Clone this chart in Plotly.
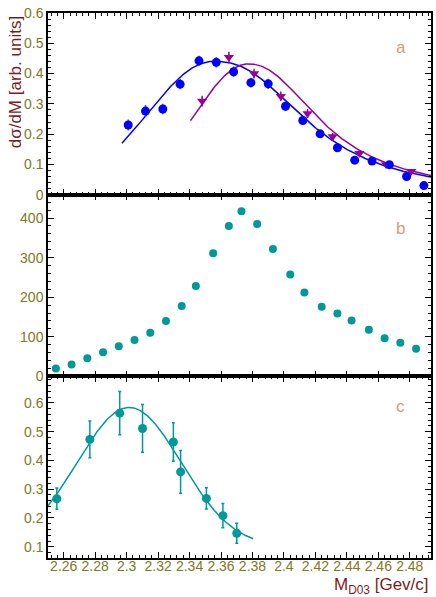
import numpy as np
import plotly.graph_objects as go
from plotly.subplots import make_subplots

# ---------------- data ----------------
# panel a: blue circles
a_blue_x = [2.301, 2.312, 2.323, 2.334, 2.346, 2.357, 2.368, 2.379, 2.390,
            2.401, 2.412, 2.423, 2.434, 2.445, 2.456, 2.467, 2.478, 2.489]
a_blue_y = [0.230, 0.276, 0.283, 0.365, 0.442, 0.437, 0.406, 0.370, 0.366,
            0.292, 0.245, 0.201, 0.155, 0.114, 0.111, 0.099, 0.060, 0.030]
a_blue_err = [0.018, 0.020, 0.017, 0.017, 0.017, 0.017, 0.017, 0.016, 0.017,
              0.016, 0.015, 0.012, 0.010, 0.010, 0.008, 0.008, 0.006, 0.006]

# panel a: purple triangles
a_purp_x = [2.348, 2.365, 2.381, 2.398, 2.415, 2.431, 2.448, 2.465, 2.481]
a_purp_y = [0.309, 0.454, 0.400, 0.325, 0.268, 0.192, 0.137, 0.100, 0.077]
a_purp_err = [0.018, 0.018, 0.016, 0.016, 0.015, 0.012, 0.010, 0.008, 0.008]

# panel b: teal circles
b_x = [2.255, 2.265, 2.275, 2.285, 2.295, 2.305, 2.315, 2.325, 2.335, 2.344,
       2.355, 2.365, 2.373, 2.383, 2.393, 2.404, 2.413, 2.424, 2.434, 2.443,
       2.454, 2.464, 2.474, 2.484]
b_y = [20, 30, 46, 61, 76, 92, 110, 140, 178, 228,
       311, 380, 417, 385, 322, 257, 212, 176, 159, 141,
       118, 96, 85, 70]

# panel c: teal circles with errors
c_x = [2.2556, 2.2766, 2.2956, 2.3101, 2.3297, 2.3343, 2.3507, 2.3612, 2.3700]
c_y = [0.267, 0.473, 0.564, 0.511, 0.464, 0.360, 0.268, 0.208, 0.147]
c_err = [0.037, 0.064, 0.075, 0.083, 0.067, 0.074, 0.037, 0.042, 0.035]

# fit-curve parameters: peak position, height, left sigma, right width, right power, range
fit_blue = dict(m=2.355, A=0.440, sl=0.042, g=0.0652, p=2.5, lo=2.297, hi=2.4935)
fit_purp = dict(m=2.3773, A=0.432, sl=0.0344, g=0.0522, p=2.2, lo=2.3406, hi=2.4935)
# panel c fit: gaussian on a flat background
fit_teal = dict(m=2.3016, A=0.484, s=0.033, b=0.100, lo=2.25, hi=2.3805)

BLUE = "#0000ff"
PURPLE = "#990099"
TEAL = "#009999"
OLIVE = "#7d7a22"
DARKRED = "#7b1c1c"
LETTER = "#c9a088"
FONT = "Liberation Sans, Arial, sans-serif"


def skew_peak(x, m, A, sl, g, p, **_):
    x = np.asarray(x)
    d = x - m
    left = A * np.exp(-d ** 2 / (2 * sl ** 2))
    right = A / (1 + np.abs(d / g) ** p)
    return np.where(d < 0, left, right)


def gauss_bg(x, m, A, s, b, **_):
    x = np.asarray(x)
    return b + A * np.exp(-(x - m) ** 2 / (2 * s ** 2))


fig = make_subplots(rows=3, cols=1, shared_xaxes=True, vertical_spacing=0)

# ---- panel a ----
xb = np.linspace(fit_blue["lo"], fit_blue["hi"], 300)
fig.add_trace(go.Scatter(x=xb, y=skew_peak(xb, **fit_blue), mode="lines",
                         line=dict(color=BLUE, width=1.5)), row=1, col=1)
xp = np.linspace(fit_purp["lo"], fit_purp["hi"], 300)
fig.add_trace(go.Scatter(x=xp, y=skew_peak(xp, **fit_purp), mode="lines",
                         line=dict(color=PURPLE, width=1.5)), row=1, col=1)
fig.add_trace(go.Scatter(x=a_purp_x, y=a_purp_y, mode="markers",
                         marker=dict(symbol="triangle-down", size=9, color=PURPLE),
                         error_y=dict(type="data", array=a_purp_err, width=0,
                                      color=PURPLE, thickness=1.5)), row=1, col=1)
fig.add_trace(go.Scatter(x=a_blue_x, y=a_blue_y, mode="markers",
                         marker=dict(symbol="circle", size=9, color=BLUE),
                         error_y=dict(type="data", array=a_blue_err, width=0,
                                      color="#3050ff", thickness=1.5)), row=1, col=1)

# ---- panel b ----
fig.add_trace(go.Scatter(x=b_x, y=b_y, mode="markers",
                         marker=dict(symbol="circle", size=8, color=TEAL)), row=2, col=1)

# ---- panel c ----
xc = np.linspace(fit_teal["lo"], fit_teal["hi"], 300)
fig.add_trace(go.Scatter(x=xc, y=gauss_bg(xc, **fit_teal), mode="lines",
                         line=dict(color=TEAL, width=1.5)), row=3, col=1)
fig.add_trace(go.Scatter(x=c_x, y=c_y, mode="markers",
                         marker=dict(symbol="circle", size=9, color=TEAL),
                         error_y=dict(type="data", array=c_err, width=1.5,
                                      color=TEAL, thickness=1.5)), row=3, col=1)

axis_common = dict(
    showline=True, linecolor="black", linewidth=1.5, mirror="allticks",
    ticks="inside", ticklen=6, tickwidth=1.2, tickcolor="black",
    showgrid=False, zeroline=False,
    tickfont=dict(family=FONT, size=14, color=OLIVE),
)
minor = dict(ticks="inside", ticklen=3, tickwidth=1, tickcolor="black", showgrid=False)

for r in (1, 2, 3):
    fig.update_xaxes(range=[2.25, 2.4935], dtick=0.02, tick0=2.26,
                     minor=dict(dtick=0.004, **minor),
                     showticklabels=(r == 3), ticklabelstandoff=-6,
                     **axis_common, row=r, col=1)

fig.update_yaxes(range=[0, 0.6], dtick=0.1, minor=dict(dtick=0.02, **minor),
                 **axis_common, row=1, col=1)
fig.update_yaxes(range=[0, 459], dtick=100, minor=dict(dtick=20, **minor),
                 **axis_common, row=2, col=1)
fig.update_yaxes(range=[0.061, 0.692], dtick=0.1, tick0=0, minor=dict(dtick=0.02, **minor),
                 **axis_common, row=3, col=1)

annotations = [
    dict(text="dσ/dM [arb. units]", x=-0.086, y=0.873, xref="paper", yref="paper",
         textangle=-90, showarrow=False, xanchor="center", yanchor="middle",
         font=dict(family=FONT, size=17, color=DARKRED)),
    dict(text="M<sub>D03</sub> [Gev/c]", x=1.0, y=-0.052, xref="paper", yref="paper",
         showarrow=False, xanchor="right", yanchor="middle",
         font=dict(family=FONT, size=17, color=DARKRED)),
]
for letter, yy in (("a", 0.9376), ("b", 0.605), ("c", 0.2776)):
    annotations.append(dict(text=letter, x=0.921, y=yy, xref="paper", yref="paper",
                            showarrow=False, xanchor="center", yanchor="middle",
                            font=dict(family=FONT, size=17, color=LETTER)))

fig.update_layout(
    width=436, height=597,
    margin=dict(l=48, r=3, t=13, b=39),
    paper_bgcolor="white", plot_bgcolor="white",
    showlegend=False,
    annotations=annotations,
)

fig.write_html("out.html")
